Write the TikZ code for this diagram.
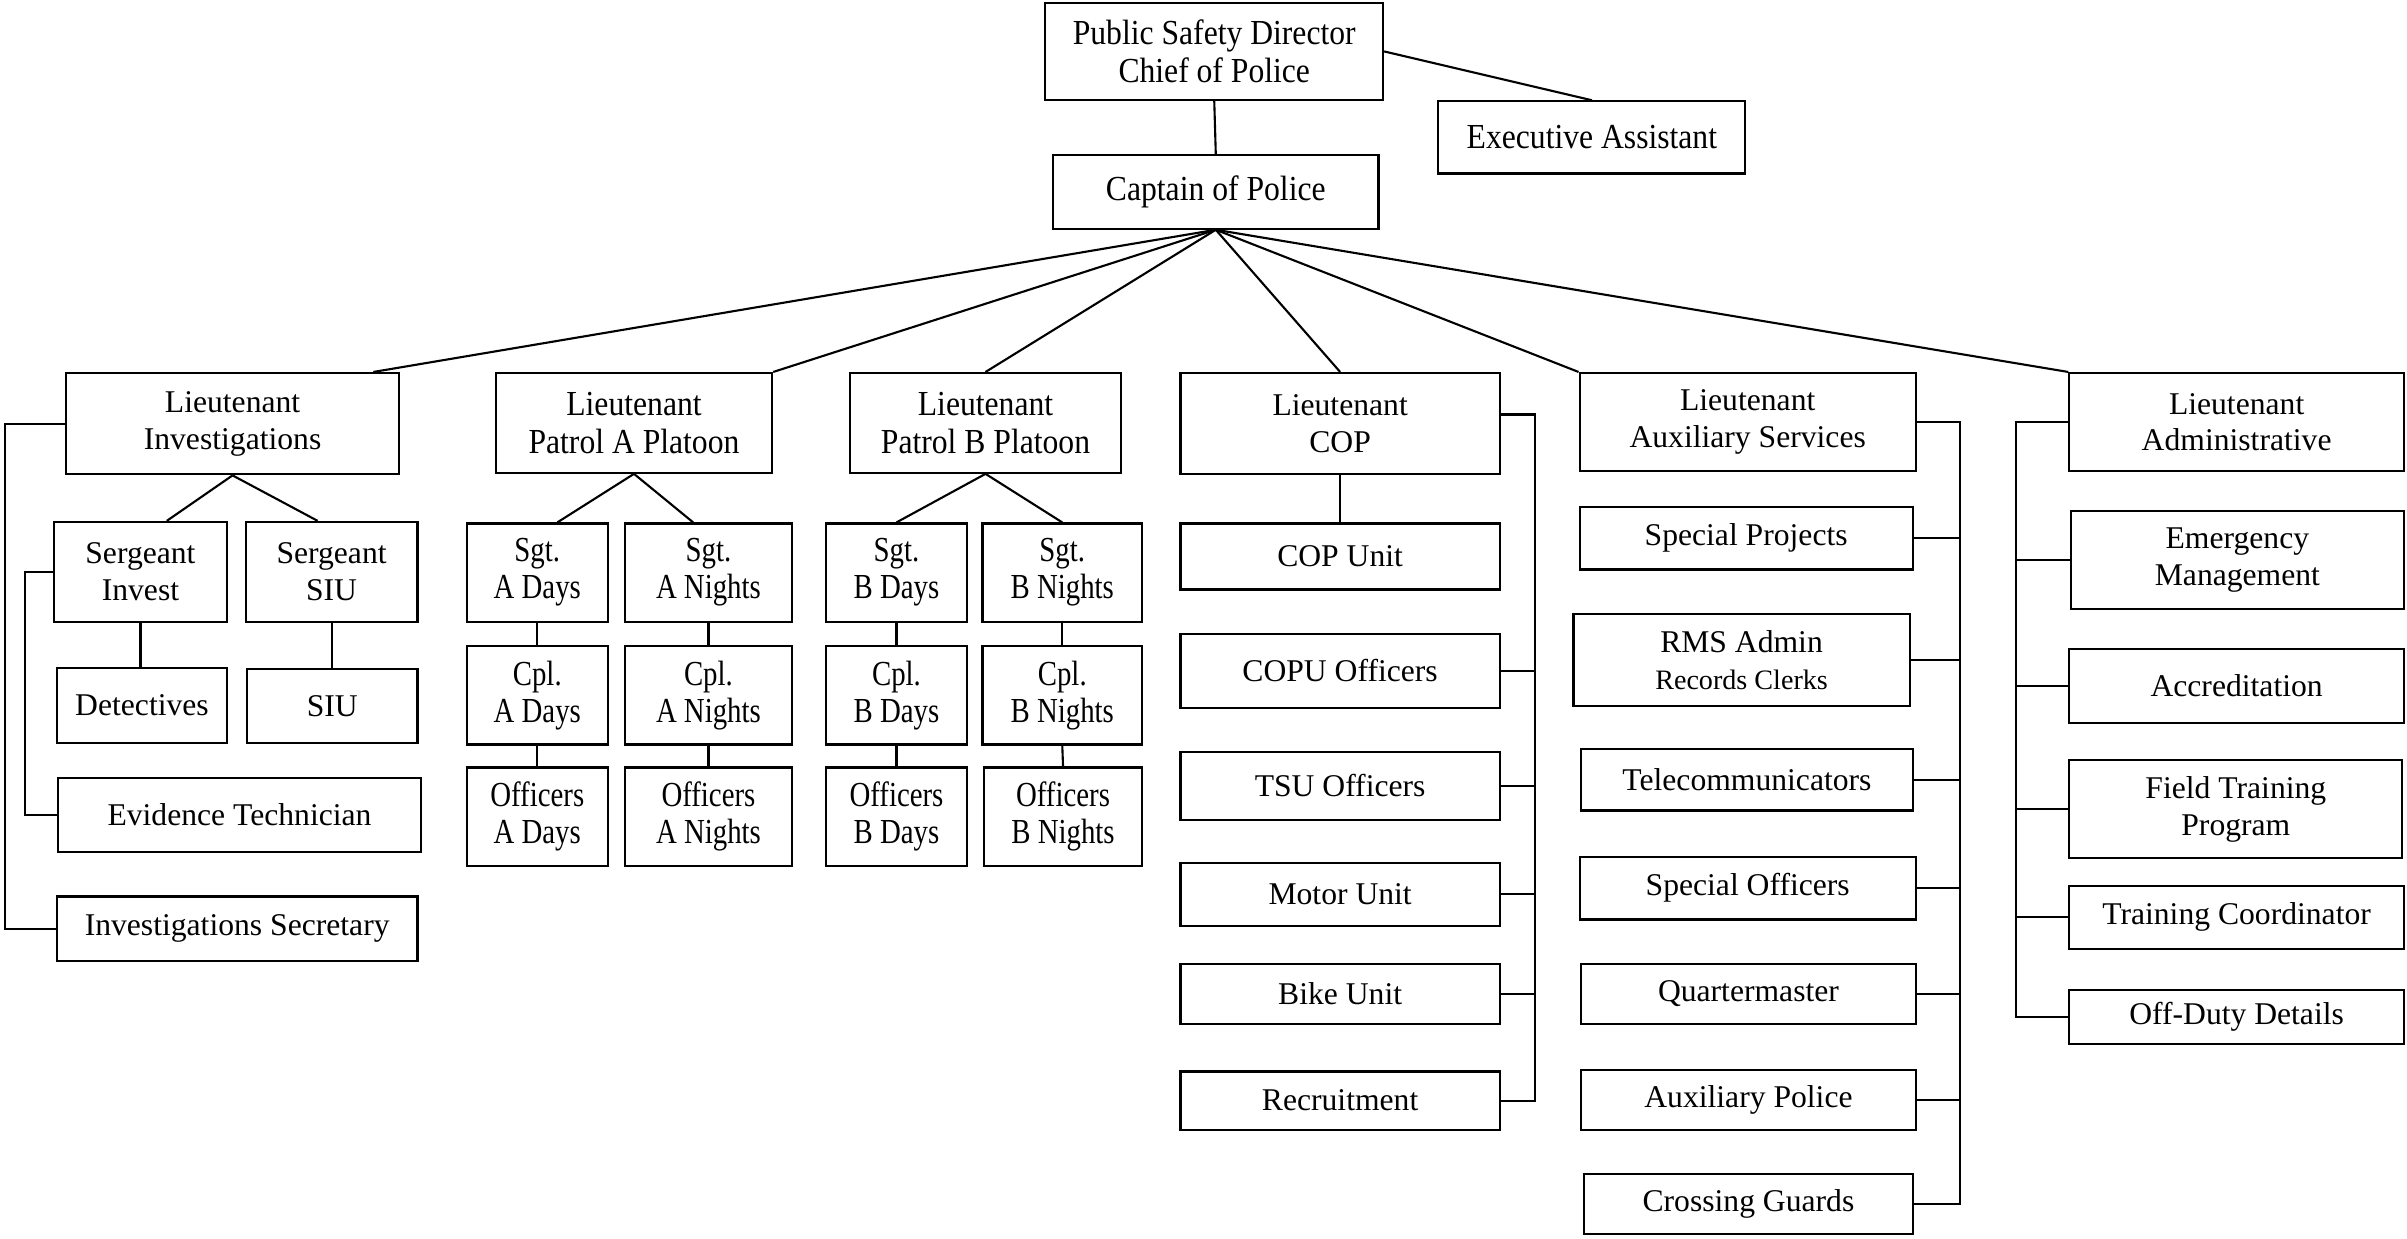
\documentclass[tikz,border=0pt]{standalone}
\usepackage{fontspec}
\setmainfont{Liberation Serif}
\newfontfamily\narrowfont[FakeStretch=0.9]{Liberation Serif}
\newfontfamily\slimfont[FakeStretch=0.82]{Liberation Serif}
\usetikzlibrary{calc}
\tikzset{
	orgchart/.style={
		x=0.01535cm, y=-0.01535cm,
		line width=0.6pt,
		every node/.style={inner sep=0pt, align=center, font=\fontsize{9}{10.5}\selectfont}
	},
	unit/.style={draw},
	chief/.style={draw, font=\narrowfont\fontsize{10}{11}\selectfont},
	squad/.style={draw, font=\slimfont\fontsize{10}{10.5}\selectfont}
}
\newcommand{\orgbox}[7][unit]{\node[#1, minimum width={(#5-#3)*0.01535cm}, minimum height={(#6-#4)*0.01535cm}] (#2) at ({(#3+#5)/2},{(#4+#6)/2}) {#7};}

\begin{document}
\begin{tikzpicture}[orgchart]
	\useasboundingbox (0,0) rectangle (1568,807);
	\orgbox[chief]{psd}{681}{2}{901}{65}{Public Safety Director\\Chief of Police}
	\orgbox[chief]{exec}{937}{66}{1137}{113}{Executive Assistant}
	\orgbox[chief]{cap}{686}{101}{898}{149}{Captain of Police}
	\orgbox{linv}{43}{243}{260}{309}{Lieutenant\\Investigations}
	\orgbox[chief]{lpa}{323}{243}{503}{308}{Lieutenant\\Patrol A Platoon}
	\orgbox[chief]{lpb}{554}{243}{730}{308}{Lieutenant\\Patrol B Platoon}
	\orgbox{lcop}{769}{243}{977}{309}{Lieutenant\\COP}
	\orgbox{laux}{1029}{243}{1248}{307}{Lieutenant\\Auxiliary Services}
	\orgbox{ladm}{1348}{243}{1566}{307}{Lieutenant\\Administrative}
	\orgbox{sinv}{35}{340}{148}{405}{Sergeant\\Invest}
	\orgbox{ssiu}{160}{340}{272}{405}{Sergeant\\SIU}
	\orgbox{det}{37}{435}{148}{484}{Detectives}
	\orgbox{siu}{161}{436}{272}{484}{SIU}
	\orgbox{evid}{38}{507}{274}{555}{Evidence Technician}
	\orgbox{isec}{37}{584}{272}{626}{Investigations Secretary}
	\orgbox[squad]{sad}{304}{341}{396}{405}{Sgt.\\A Days}
	\orgbox[squad]{san}{407}{341}{516}{405}{Sgt.\\A Nights}
	\orgbox[squad]{cad}{304}{421}{396}{485}{Cpl.\\A Days}
	\orgbox[squad]{can}{407}{421}{516}{485}{Cpl.\\A Nights}
	\orgbox[squad]{oad}{304}{500}{396}{564}{Officers\\A Days}
	\orgbox[squad]{oan}{407}{500}{516}{564}{Officers\\A Nights}
	\orgbox[squad]{sbd}{538}{341}{630}{405}{Sgt.\\B Days}
	\orgbox[squad]{sbn}{640}{341}{744}{405}{Sgt.\\B Nights}
	\orgbox[squad]{cbd}{538}{421}{630}{485}{Cpl.\\B Days}
	\orgbox[squad]{cbn}{640}{421}{744}{485}{Cpl.\\B Nights}
	\orgbox[squad]{obd}{538}{500}{630}{564}{Officers\\B Days}
	\orgbox[squad]{obn}{641}{500}{744}{564}{Officers\\B Nights}
	\orgbox{copu}{769}{341}{977}{384}{COP Unit}
	\orgbox{copo}{769}{413}{977}{461}{COPU Officers}
	\orgbox{tsu}{769}{490}{977}{534}{TSU Officers}
	\orgbox{motor}{769}{562}{977}{603}{Motor Unit}
	\orgbox{bike}{769}{628}{977}{667}{Bike Unit}
	\orgbox{recr}{769}{698}{977}{736}{Recruitment}
	\orgbox{proj}{1029}{330}{1246}{371}{Special Projects}
	\orgbox{rms}{1025}{400}{1244}{460}{RMS Admin\\{\fontsize{8}{9.5}\selectfont Records Clerks}}
	\orgbox{tele}{1030}{488}{1246}{528}{Telecommunicators}
	\orgbox{spof}{1029}{558}{1248}{599}{Special Officers}
	\orgbox{qm}{1030}{628}{1248}{667}{Quartermaster}
	\orgbox{auxp}{1030}{697}{1248}{736}{Auxiliary Police}
	\orgbox{cross}{1032}{765}{1246}{804}{Crossing Guards}
	\orgbox{emer}{1349}{333}{1566}{397}{Emergency\\Management}
	\orgbox{accr}{1348}{423}{1566}{471}{Accreditation}
	\orgbox{fto}{1348}{495}{1565}{559}{Field Training\\Program}
	\orgbox{tcoord}{1348}{577}{1566}{618}{Training Coordinator}
	\orgbox{odd}{1348}{645}{1566}{680}{Off-Duty Details}

	\draw (psd.south) -- (cap.north);
	\draw (psd.east) -- (exec.north);
	\draw (cap.south) -- ($(linv.north west)!0.92!(linv.north east)$);
	\draw (cap.south) -- (lpa.north east);
	\draw (cap.south) -- (lpb.north);
	\draw (cap.south) -- (lcop.north);
	\draw (cap.south) -- (laux.north west);
	\draw (cap.south) -- (ladm.north west);

	\draw (linv.south) -- ($(sinv.north west)!0.65!(sinv.north east)$);
	\draw (linv.south) -- ($(ssiu.north west)!0.42!(ssiu.north east)$);
	\draw (sinv.south) -- (sinv.south |- det.north);
	\draw (ssiu.south) -- (ssiu.south |- siu.north);
	\coordinate (invbus) at (3,0);
	\coordinate (sgtbus) at (16,0);
	\draw (linv.west) -- (linv.west -| invbus) -- (invbus |- isec.west) -- (isec.west);
	\draw (sinv.west) -- (sinv.west -| sgtbus) -- (sgtbus |- evid.west) -- (evid.west);

	\draw (lpa.south) -- ($(sad.north west)!0.64!(sad.north east)$);
	\draw (lpa.south) -- ($(san.north west)!0.41!(san.north east)$);
	\draw (lpb.south) -- (sbd.north);
	\draw (lpb.south) -- (sbn.north);
	\foreach \up/\down in {sad/cad, cad/oad, san/can, can/oan, sbd/cbd, cbd/obd, sbn/cbn, cbn/obn}
		\draw (\up.south) -- (\down.north);

	\draw (lcop.south) -- (copu.north);
	\coordinate (copbus) at (1000,270);
	\draw (lcop.east |- copbus) -- (copbus) -- (copbus |- recr.east) -- (recr.east);
	\foreach \n in {copo, tsu, motor, bike}
		\draw (\n.east) -- (\n.east -| copbus);

	\coordinate (auxbus) at (1277,0);
	\draw (laux.east) -- (laux.east -| auxbus) -- (auxbus |- cross.east) -- (cross.east);
	\foreach \n in {proj, rms, tele, spof, qm, auxp}
		\draw (\n.east) -- (\n.east -| auxbus);

	\coordinate (admbus) at (1313,0);
	\draw (ladm.west) -- (ladm.west -| admbus) -- (admbus |- odd.west) -- (odd.west);
	\foreach \n in {emer, accr, fto, tcoord}
		\draw (\n.west) -- (\n.west -| admbus);
\end{tikzpicture}
\end{document}
